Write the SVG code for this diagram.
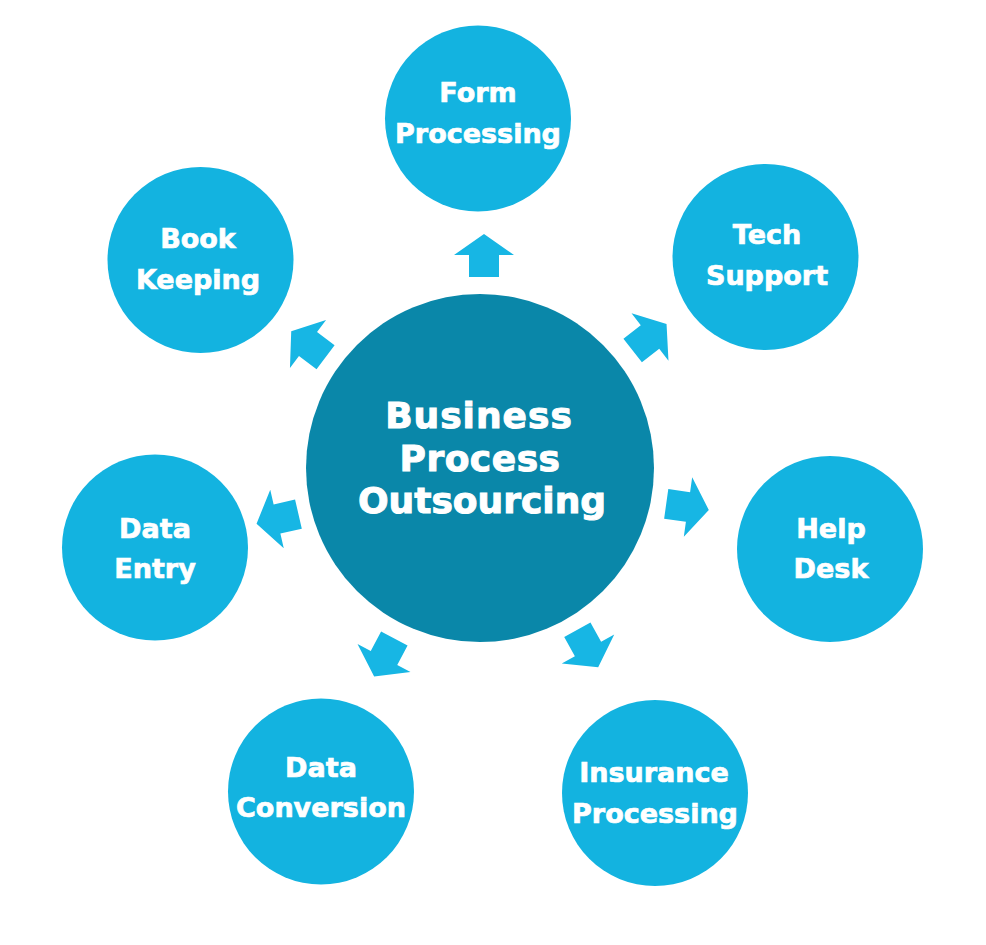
<svg xmlns="http://www.w3.org/2000/svg" width="986" height="945" viewBox="0 0 986 945">
  <style>
    .sat { fill: #13b3e0; }
    .hub { fill: #0a87a9; }
    .arr { fill: #17b6e4; }
    text { font-family: "DejaVu Sans", "Liberation Sans", sans-serif; font-weight: bold; fill: #ffffff; stroke: #ffffff; text-anchor: middle; }
    .t { font-size: 27px; stroke-width: 0.7px; }
    .c { font-size: 36px; stroke-width: 1px; }
  </style>
  <defs>
    <path id="arrow" d="M-22,-15 H0 V-30 L21,0 L0,30 V15 H-22 Z"/>
  </defs>
  <rect width="986" height="945" fill="#ffffff"/>

  <g id="connectors">
    <use href="#arrow" class="arr" transform="translate(484,255) rotate(-90)"/>
    <use href="#arrow" class="arr" transform="translate(650,337) rotate(-38)"/>
    <use href="#arrow" class="arr" transform="translate(688,507) rotate(8)"/>
    <use href="#arrow" class="arr" transform="translate(588,649) rotate(61)"/>
    <use href="#arrow" class="arr" transform="translate(384,658) rotate(118)"/>
    <use href="#arrow" class="arr" transform="translate(277,519) rotate(167)"/>
    <use href="#arrow" class="arr" transform="translate(308,344) rotate(-143)"/>
  </g>

  <g id="node-bpo">
    <circle class="hub" cx="480" cy="468" r="174"/>
    <text class="c" x="479" y="428" letter-spacing="1">Business</text>
    <text class="c" x="480" y="471" letter-spacing="0.5">Process</text>
    <text class="c" x="482" y="513">Outsourcing</text>
  </g>

  <g id="node-form">
    <circle class="sat" cx="478" cy="118.5" r="93"/>
    <text class="t" x="478" y="102">Form</text>
    <text class="t" x="478" y="143">Processing</text>
  </g>

  <g id="node-tech">
    <circle class="sat" cx="765.5" cy="257" r="93"/>
    <text class="t" x="767" y="244">Tech</text>
    <text class="t" x="767" y="285">Support</text>
  </g>

  <g id="node-help">
    <circle class="sat" cx="830" cy="549" r="93"/>
    <text class="t" x="831" y="538">Help</text>
    <text class="t" x="831" y="578">Desk</text>
  </g>

  <g id="node-insurance">
    <circle class="sat" cx="655" cy="793" r="93"/>
    <text class="t" x="654" y="782">Insurance</text>
    <text class="t" x="655" y="823">Processing</text>
  </g>

  <g id="node-conversion">
    <circle class="sat" cx="321" cy="791.5" r="93"/>
    <text class="t" x="321" y="777">Data</text>
    <text class="t" x="321" y="817">Conversion</text>
  </g>

  <g id="node-entry">
    <circle class="sat" cx="155" cy="547.5" r="93"/>
    <text class="t" x="155" y="538">Data</text>
    <text class="t" x="155" y="578">Entry</text>
  </g>

  <g id="node-book">
    <circle class="sat" cx="200.5" cy="260" r="93"/>
    <text class="t" x="198" y="248">Book</text>
    <text class="t" x="198" y="289">Keeping</text>
  </g>
</svg>
